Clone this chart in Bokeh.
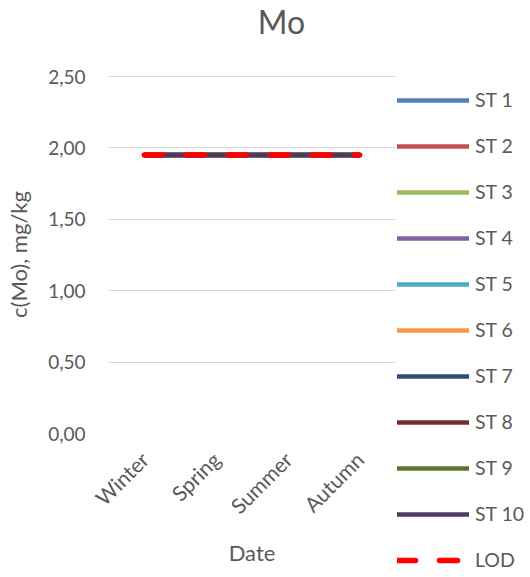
from math import pi
from bokeh.plotting import figure
from bokeh.layouts import row, column
from bokeh.models import (FactorRange, Range1d, FixedTicker, CustomJSTickFormatter,
                          Legend, LegendItem, Label)
from bokeh.embed import file_html
from bokeh.resources import INLINE

# ---- data ----
seasons = ["Winter", "Spring", "Summer", "Autumn"]
st1 = [1.95, 1.95, 1.95, 1.95]
st2 = [1.95, 1.95, 1.95, 1.95]
st3 = [1.95, 1.95, 1.95, 1.95]
st4 = [1.95, 1.95, 1.95, 1.95]
st5 = [1.95, 1.95, 1.95, 1.95]
st6 = [1.95, 1.95, 1.95, 1.95]
st7 = [1.95, 1.95, 1.95, 1.95]
st8 = [1.95, 1.95, 1.95, 1.95]
st9 = [1.95, 1.95, 1.95, 1.95]
st10 = [1.95, 1.95, 1.95, 1.95]
lod = [1.95, 1.95, 1.95, 1.95]
series_names = ["ST 1", "ST 2", "ST 3", "ST 4", "ST 5",
                "ST 6", "ST 7", "ST 8", "ST 9", "ST 10"]
y_ticks = [0.0, 0.5, 1.0, 1.5, 2.0, 2.5]

colors = ["#4F81BD", "#C0504D", "#9BBB59", "#8064A2", "#4BACC6",
          "#F79646", "#2C4D75", "#772C2A", "#5F7530", "#4D3B62"]
TEXT = "#595959"
FONT = "Lato"
SERIES_W = 4.5
LOD_W = 5.5
LOD_DASH = "18 24"


def bare(fig):
    fig.outline_line_color = None
    fig.background_fill_color = "white"
    fig.border_fill_color = "white"
    fig.xgrid.visible = False
    fig.ygrid.visible = False


# ---- title strip ----
title_fig = figure(width=395, height=63, x_range=Range1d(0, 1), y_range=Range1d(0, 1),
                   x_axis_type=None, y_axis_type=None, output_backend="svg",
                   toolbar_location=None, min_border=0)
bare(title_fig)
title_fig.add_layout(Label(x=173, y=42, x_units="screen", y_units="screen", text="Mo",
                           text_align="center", text_baseline="alphabetic",
                           text_font=FONT, text_font_size="32px", text_color=TEXT))

# ---- main plot ----
p = figure(width=395, height=514,
           x_range=FactorRange(*seasons), y_range=Range1d(0, 2.5 * 358 / 357),
           output_backend="svg", toolbar_location=None,
           min_border_left=108, min_border_right=0,
           min_border_top=12, min_border_bottom=144)
p.outline_line_color = None
p.background_fill_color = "white"
p.border_fill_color = "white"

p.xgrid.grid_line_color = None
p.ygrid.grid_line_color = "#D9D9D9"
p.ygrid.grid_line_width = 1

p.yaxis.ticker = FixedTicker(ticks=y_ticks)
p.yaxis.formatter = CustomJSTickFormatter(code="return tick.toFixed(2).replace('.', ',');")
p.yaxis.axis_line_color = None
p.yaxis.major_tick_line_color = None
p.yaxis.minor_tick_line_color = None
p.yaxis.major_tick_out = 0
p.yaxis.major_tick_in = 0
p.yaxis.major_label_standoff = 23
p.yaxis.major_label_text_font = FONT
p.yaxis.major_label_text_font_size = "19px"
p.yaxis.major_label_text_color = TEXT
p.yaxis.axis_label = "c(Mo), mg/kg"
p.yaxis.axis_label_text_font = FONT
p.yaxis.axis_label_text_font_size = "22px"
p.yaxis.axis_label_text_font_style = "normal"
p.yaxis.axis_label_text_color = TEXT
p.yaxis.axis_label_standoff = 13

p.xaxis.axis_line_color = None
p.xaxis.major_tick_line_color = None
p.xaxis.minor_tick_line_color = None
p.xaxis.major_tick_out = 0
p.xaxis.major_tick_in = 0
p.xaxis.major_label_orientation = pi / 4
p.xaxis.major_label_standoff = 22
p.xaxis.major_label_text_font = FONT
p.xaxis.major_label_text_font_size = "21px"
p.xaxis.major_label_text_color = TEXT
p.xaxis.axis_label = "Date"
p.xaxis.axis_label_text_font = FONT
p.xaxis.axis_label_text_font_size = "22px"
p.xaxis.axis_label_text_font_style = "normal"
p.xaxis.axis_label_text_color = TEXT
p.xaxis.axis_label_standoff = 9

series = [st1, st2, st3, st4, st5, st6, st7, st8, st9, st10]
for vals, col in zip(series, colors):
    p.line(seasons, vals, line_color=col, line_width=SERIES_W, line_cap="round")
p.line(seasons, lod, line_color="#FF0000", line_width=LOD_W,
       line_dash=LOD_DASH, line_cap="round")

# ---- legend strip (same series; its view range lies away from the data) ----
leg_fig = figure(width=135, height=577, x_range=FactorRange(*seasons),
                 y_range=Range1d(10, 11),
                 x_axis_type=None, y_axis_type=None, output_backend="svg",
                 toolbar_location=None, min_border=0)
bare(leg_fig)
items = []
for name, vals, col in zip(series_names, series, colors):
    r = leg_fig.line(seasons, vals, line_color=col, line_width=SERIES_W, line_cap="round")
    items.append(LegendItem(label=name, renderers=[r]))
r_lod = leg_fig.line(seasons, lod, line_color="#FF0000", line_width=LOD_W,
                     line_dash=LOD_DASH, line_cap="round")
items.append(LegendItem(label="LOD", renderers=[r_lod]))

legend = Legend(items=items, location=(2, 6), padding=0, margin=0,
                spacing=23, glyph_width=72, glyph_height=20, label_height=20,
                label_standoff=6, label_text_font=FONT, label_text_font_size="19.5px",
                label_text_color=TEXT, border_line_color=None,
                background_fill_alpha=0)
leg_fig.add_layout(legend)

layout = row(column(title_fig, p), leg_fig)
open("out.html", "w").write(file_html(layout, INLINE))
